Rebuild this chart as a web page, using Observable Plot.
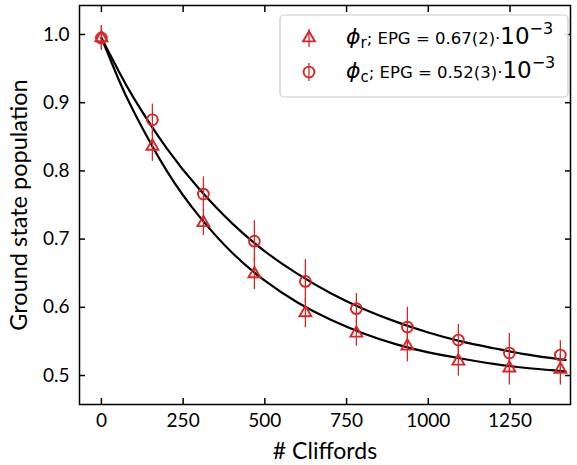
<!DOCTYPE html>
<html>
<head>
<meta charset="utf-8">
<script src="https://cdn.jsdelivr.net/npm/d3@7"></script>
<script src="https://cdn.jsdelivr.net/npm/@observablehq/plot@0.6"></script>
<style>
  body { margin: 0; background: white; }
  #chart { position: relative; width: 577px; height: 465px; }
</style>
</head>
<body>
<div id="chart"></div>
<script>
const cliffords = [0, 156, 312, 468, 624, 780, 936, 1092, 1248, 1404];
const popR = [0.995, 0.836, 0.724, 0.649, 0.592, 0.562, 0.543, 0.521, 0.511, 0.509];
const errR = [0.018, 0.022, 0.019, 0.023, 0.022, 0.019, 0.023, 0.022, 0.025, 0.023];
const popC = [0.995, 0.875, 0.766, 0.697, 0.638, 0.598, 0.571, 0.552, 0.533, 0.530];
const errC = [0.018, 0.023, 0.025, 0.030, 0.032, 0.022, 0.029, 0.023, 0.029, 0.021];

const fitX = [0, 50, 100, 200, 300, 400, 500, 600, 700, 800, 900, 1000, 1100, 1200, 1300, 1400, 1420];
const fitC = [0.995, 0.949, 0.906, 0.833, 0.773, 0.723, 0.682, 0.649, 0.621, 0.598, 0.579, 0.563, 0.550, 0.540, 0.531, 0.524, 0.523];
const fitR = [0.995, 0.937, 0.886, 0.800, 0.733, 0.680, 0.639, 0.607, 0.582, 0.562, 0.546, 0.534, 0.525, 0.517, 0.511, 0.507, 0.506];

const xTicks = [0, 250, 500, 750, 1000, 1250];
const yTicks = [0.5, 0.6, 0.7, 0.8, 0.9, 1.0];

const legendLabels = [
  {sym: "r", epg: "0.67(2)"},
  {sym: "c", epg: "0.52(3)"}
];

const red = "#d62728";
const ptsR = cliffords.map((x, i) => ({x, y: popR[i], e: errR[i]}));
const ptsC = cliffords.map((x, i) => ({x, y: popC[i], e: errC[i]}));
const lineC = fitX.map((x, i) => ({x, y: fitC[i]}));
const lineR = fitX.map((x, i) => ({x, y: fitR[i]}));

const tickFont = "Lato, 'Open Sans', sans-serif";

const chart = Plot.plot({
  width: 577,
  height: 465,
  marginLeft: 79,
  marginRight: 7,
  marginTop: 5,
  marginBottom: 61,
  style: {fontFamily: tickFont, fontSize: "19px", color: "black", background: "white"},
  x: {domain: [-67, 1435]},
  y: {domain: [0.4575, 1.0425]},
  marks: [
    Plot.axisX(xTicks, {anchor: "bottom", tickSize: -6, tickPadding: 15, strokeWidth: 1.5, fontSize: 19, tickFormat: d => String(d), label: null}),
    Plot.axisX(xTicks, {anchor: "top", tickSize: -6, strokeWidth: 1.5, tickFormat: () => "", label: null}),
    Plot.axisY(yTicks, {anchor: "left", tickSize: -6, tickPadding: 16, strokeWidth: 1.5, fontSize: 19, tickFormat: d3.format(".1f"), label: null}),
    Plot.axisY(yTicks, {anchor: "right", tickSize: -6, strokeWidth: 1.5, tickFormat: () => "", label: null}),
    Plot.line(lineC, {x: "x", y: "y", curve: "natural", stroke: "black", strokeWidth: 2.2}),
    Plot.line(lineR, {x: "x", y: "y", curve: "natural", stroke: "black", strokeWidth: 2.2}),
    Plot.ruleX(ptsR, {x: "x", y1: d => d.y - d.e, y2: d => d.y + d.e, stroke: red, strokeWidth: 1.3}),
    Plot.ruleX(ptsC, {x: "x", y1: d => d.y - d.e, y2: d => d.y + d.e, stroke: red, strokeWidth: 1.3}),
    Plot.dot(ptsR, {x: "x", y: "y", symbol: "triangle", r: 4.4, stroke: red, strokeWidth: 1.9, fill: "none"}),
    Plot.dot(ptsC, {x: "x", y: "y", symbol: "circle", r: 5.4, stroke: red, strokeWidth: 1.9, fill: "none"}),
    Plot.frame({stroke: "black", strokeWidth: 1.5}),
    Plot.text(["# Cliffords"], {frameAnchor: "bottom", dy: 47, fontSize: 23, lineAnchor: "middle", textAnchor: "middle"}),
    Plot.text(["Ground state population"], {frameAnchor: "left", dx: -60, rotate: -90, fontSize: 23.5, textAnchor: "middle", lineAnchor: "middle"})
  ]
});

document.getElementById("chart").appendChild(chart);

// Legend drawn into the SVG
const svg = d3.select(chart);
const lg = svg.append("g").attr("class", "legend").attr("text-anchor", "start");
lg.append("rect")
  .attr("x", 280).attr("y", 15).attr("width", 288).attr("height", 82)
  .attr("rx", 4).attr("fill", "white").attr("fill-opacity", 0.85)
  .attr("stroke", "#cccccc").attr("stroke-width", 1.2);

const rowY = [38, 72];
const triPath = d3.symbol(d3.symbolTriangle, Math.PI * 4.4 * 4.4)();
const circPath = d3.symbol(d3.symbolCircle, Math.PI * 5.4 * 5.4)();
legendLabels.forEach((L, i) => {
  const cy = rowY[i];
  lg.append("line").attr("x1", 309).attr("x2", 309).attr("y1", cy - 9).attr("y2", cy + 9)
    .attr("stroke", red).attr("stroke-width", 1.3);
  lg.append("path").attr("d", i === 0 ? triPath : circPath)
    .attr("transform", `translate(309,${cy})`)
    .attr("fill", "none").attr("stroke", red).attr("stroke-width", 1.9);
  const t = lg.append("text").attr("x", 346).attr("y", cy + 6)
    .attr("text-anchor", "start")
    .attr("font-family", "'DejaVu Sans', sans-serif").attr("fill", "black");
  t.append("tspan").attr("font-style", "italic").attr("font-size", 22).text("\u03D5");
  t.append("tspan").attr("font-size", 15).attr("dy", 4).text(L.sym);
  t.append("tspan").attr("font-size", 16.5).attr("dy", -4).text("; EPG = " + L.epg + "\u00B7");
  t.append("tspan").attr("font-size", 23).text("10");
  t.append("tspan").attr("font-size", 16).attr("dy", -10).text("\u22123");
});
</script>
</body>
</html>
